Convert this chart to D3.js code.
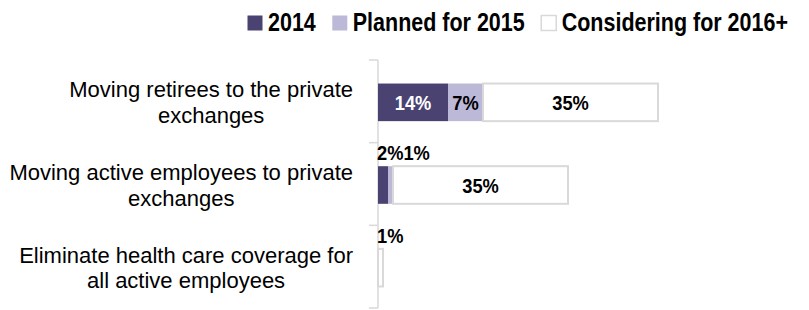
<!DOCTYPE html>
<html>
<head>
<meta charset="utf-8">
<script src="https://cdn.jsdelivr.net/npm/d3@7"></script>
<style>
  html, body { margin: 0; padding: 0; background: #fff; }
  svg { display: block; font-family: "Liberation Sans", Arial, sans-serif; }
</style>
</head>
<body>
<svg id="chart" width="809" height="310"></svg>
<script>
// ---- data ----
const categories = [
  "Moving retirees to the private exchanges",
  "Moving active employees to private exchanges",
  "Eliminate health care coverage for all active employees"
];
const categoryLines = [
  ["Moving retirees to the private", "exchanges"],
  ["Moving active employees to private", "exchanges"],
  ["Eliminate health care coverage for", "all active employees"]
];
const seriesNames = ["2014", "Planned for 2015", "Considering for 2016+"];
const values2014 = [14, 2, 0];
const valuesPlanned2015 = [7, 1, 0];
const valuesConsidering2016 = [35, 35, 1];
const seriesColors = ["#4a4372", "#bcb8d8", "#ffffff"];
const labelColors = ["#ffffff", "#000000", "#000000"];

// ---- layout ----
const svg = d3.select("#chart");
const axisX = 378, plotTop = 60, plotBottom = 308;
const x = d3.scaleLinear().domain([0, 80]).range([axisX, axisX + 400]);
const y = d3.scaleBand().domain(categories).range([plotTop, plotBottom]).padding(0);
const barH = y.bandwidth() * 0.455;
const gray = "#d9d9d9";
const lblScale = 0.87, lgScale = 0.86;

const rows = categories.map((c, i) => {
  const vals = [values2014[i], valuesPlanned2015[i], valuesConsidering2016[i]];
  let acc = 0;
  return { cat: c, i, segs: vals.map((v, k) => { const s = { k, v, x0: acc, x1: acc + v }; acc += v; return s; }) };
});

// axis line and ticks
svg.append("line").attr("x1", axisX).attr("x2", axisX).attr("y1", plotTop).attr("y2", plotBottom)
  .attr("stroke", gray).attr("stroke-width", 1.5);
const tickYs = categories.map(c => y(c)).concat([y.range()[1]]);
svg.selectAll(".tick").data(tickYs).enter().append("line")
  .attr("x1", axisX - 9).attr("x2", axisX).attr("y1", d => d).attr("y2", d => d)
  .attr("stroke", gray).attr("stroke-width", 1.5);

// bars
rows.forEach(r => {
  const cy = y(r.cat) + y.bandwidth() / 2 + 1;
  const g = svg.append("g");
  g.selectAll("rect").data(r.segs.filter(s => s.v > 0)).enter().append("rect")
    .attr("x", s => x(s.x0)).attr("width", s => x(s.x1) - x(s.x0))
    .attr("y", cy - barH / 2).attr("height", barH)
    .attr("fill", s => seriesColors[s.k])
    .attr("stroke", s => s.k === 2 ? gray : "none").attr("stroke-width", 2);

  // labels
  let aboveX = axisX - 1;
  r.segs.filter(s => s.v > 0).forEach(s => {
    const txt = s.v + "%";
    const t = g.append("text").text(txt)
      .attr("font-weight", "bold").attr("font-size", 21);
    const w = t.node().getComputedTextLength() * lblScale;
    const segW = x(s.x1) - x(s.x0);
    if (segW >= w + 4) {
      t.attr("text-anchor", "middle").attr("fill", labelColors[s.k])
        .attr("transform", `translate(${(x(s.x0) + x(s.x1)) / 2},${cy + 8}) scale(${lblScale},1)`);
    } else {
      t.attr("text-anchor", "start").attr("fill", "#000")
        .attr("transform", `translate(${aboveX},${cy - barH / 2 - 6}) scale(${lblScale},1)`);
      aboveX += w;
    }
  });
});

// category labels
const rightEdge = 353;
rows.forEach(r => {
  const cy = y(r.cat) + y.bandwidth() / 2;
  const lines = categoryLines[r.i];
  const g = svg.append("g");
  const ts = lines.map((l, j) => g.append("text").text(l).attr("font-size", 22).attr("fill", "#000")
    .attr("text-anchor", "middle").attr("y", cy - 4 + j * 25.5));
  const maxW = d3.max(ts, t => t.node().getComputedTextLength());
  ts.forEach(t => t.attr("x", rightEdge - maxW / 2));
});

// legend
let lx = 247;
seriesNames.forEach((name, k) => {
  svg.append("rect").attr("x", lx + 0.5).attr("y", 15.5).attr("width", 15).attr("height", 15)
    .attr("fill", seriesColors[k]).attr("stroke", k === 2 ? gray : "none").attr("stroke-width", 1.5);
  const t = svg.append("text").text(name).attr("font-weight", "bold").attr("font-size", 25)
    .attr("transform", `translate(${lx + 21},31) scale(${lgScale},1)`);
  const w = t.node().getComputedTextLength() * lgScale;
  lx += 21 + w + 16;
});
</script>
</body>
</html>
